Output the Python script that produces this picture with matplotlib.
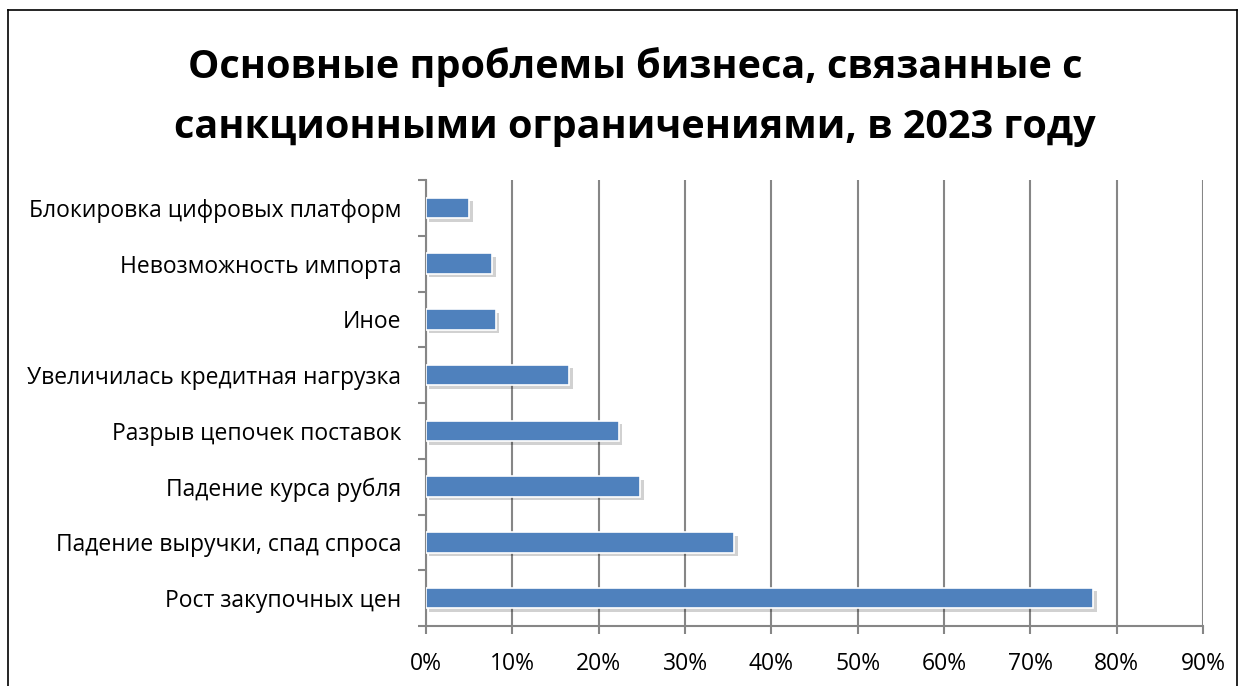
import matplotlib

matplotlib.use("Agg")
import matplotlib.pyplot as plt
import matplotlib.patheffects as pe
from matplotlib.ticker import PercentFormatter

plt.rcParams["font.family"] = ["Open Sans", "DejaVu Sans"]

# bottom to top
categories = [
    "Рост закупочных цен",
    "Падение выручки, спад спроса",
    "Падение курса рубля",
    "Разрыв цепочек поставок",
    "Увеличилась кредитная нагрузка",
    "Иное",
    "Невозможность импорта",
    "Блокировка цифровых платформ",
]
values = [77.3, 35.7, 24.8, 22.3, 16.6, 8.1, 7.7, 5.0]
x_ticks = [0, 10, 20, 30, 40, 50, 60, 70, 80, 90]
title = "Основные проблемы бизнеса, связанные с\nсанкционными ограничениями, в 2023 году"

W, H = 1245, 686
fig = plt.figure(figsize=(W / 100, H / 100), dpi=100)
ax = fig.add_axes([426 / W, 1 - 626 / H, (1203 - 426) / W, (626 - 180) / H])

ypos = list(range(len(categories)))
bars = ax.barh(ypos, values, height=0.37, color="#4F81BD", edgecolor="white",
               linewidth=1.2, zorder=3)
for b in bars:
    b.set_path_effects([pe.SimplePatchShadow(offset=(2.5, -2.5), shadow_rgbFace="#000000",
                                             alpha=0.18), pe.Normal()])

ax.set_xlim(0, 90)
ax.set_ylim(-0.5, len(categories) - 0.5)
ax.set_xticks(x_ticks)
ax.xaxis.set_major_formatter(PercentFormatter(decimals=0))
ax.grid(axis="x", color="#868686", linewidth=1.5, zorder=0)

ax.set_yticks([i - 0.5 for i in range(len(categories) + 1)])
ax.set_yticklabels([])
ax.set_yticks(ypos, minor=True)
ax.set_yticklabels(categories, minor=True)
ax.tick_params(axis="y", which="minor", length=0, pad=18, labelsize=16.5)
ax.tick_params(axis="y", which="major", length=6, width=1.5, color="#868686")
ax.tick_params(axis="x", length=6, width=1.5, color="#868686", labelsize=16.5, pad=13)

for s in ["top", "right"]:
    ax.spines[s].set_visible(False)
for s in ["left", "bottom"]:
    ax.spines[s].set_color("#868686")
    ax.spines[s].set_linewidth(1.5)

fig.text(0.51, 1 - 97 / H, title, ha="center", va="center", fontsize=28.5,
         fontweight="bold", linespacing=1.68)

# chart frame
fig.add_artist(plt.Line2D([8 / W, 8 / W], [0, 1 - 10 / H], color="black", linewidth=1.2))
fig.add_artist(plt.Line2D([8 / W, 1237 / W], [1 - 10 / H, 1 - 10 / H], color="black", linewidth=1.2))
fig.add_artist(plt.Line2D([1237 / W, 1237 / W], [0, 1 - 10 / H], color="black", linewidth=1.2))

fig.savefig("out.png", dpi=100)
